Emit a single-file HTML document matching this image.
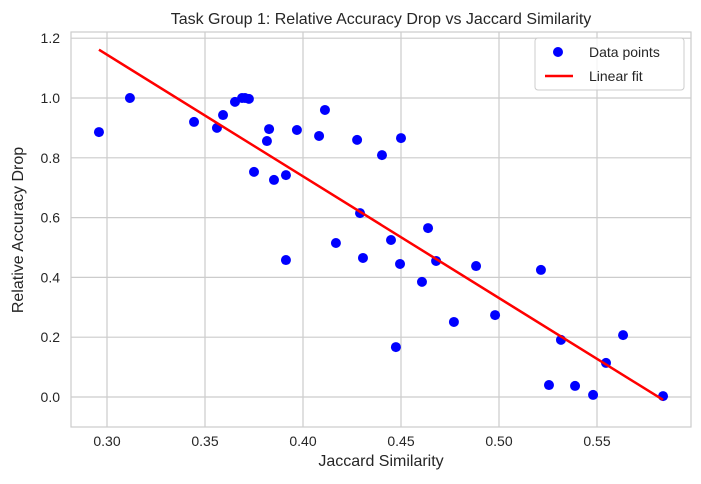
<!DOCTYPE html>
<html><head><meta charset="utf-8"><style>
html,body{margin:0;padding:0;background:#fff;}
svg text{font-family:"Liberation Sans","DejaVu Sans",sans-serif;fill:#262626;}
</style></head><body>
<svg id="chart" width="701" height="479" xmlns="http://www.w3.org/2000/svg">
<text x="381" y="24" font-size="16" text-anchor="middle">Task Group 1: Relative Accuracy Drop vs Jaccard Similarity</text>
<text x="381" y="466" font-size="16" text-anchor="middle">Jaccard Similarity</text>
<text transform="translate(23,230) rotate(-90)" font-size="16" text-anchor="middle">Relative Accuracy Drop</text>
<g id="grid"></g><g id="marks"></g><g id="ticks"></g>
<rect x="71" y="32" width="620" height="395" fill="none" stroke="#ccc" stroke-width="1.2"/>
<g>
<rect x="535" y="38" width="149" height="52" rx="3" fill="#fff" fill-opacity="0.8" stroke="#ccc"/>
<g><circle cx="558" cy="52" r="5" fill="#0000ff"/><text x="589" y="57" font-size="14">Data points</text></g>
<g><line x1="545" y1="76" x2="573" y2="76" stroke="#ff0000" stroke-width="2.5"/><text x="589" y="81" font-size="14">Linear fit</text></g>
</g>
</svg>
<script>
const xValues=[0.2959,0.3117,0.3444,0.3561,0.3592,0.3653,0.3689,0.3704,0.3724,0.375,0.3816,0.3827,0.3852,0.3913,0.3913,0.3969,0.4082,0.4112,0.4168,0.4276,0.4291,0.4306,0.4403,0.4449,0.4474,0.4495,0.45,0.4607,0.4638,0.4679,0.477,0.4883,0.498,0.5214,0.5255,0.5316,0.5388,0.548,0.5546,0.5633,0.5837];
const yValues=[0.886,1.0,0.920,0.900,0.943,0.987,1.0,1.0,0.997,0.753,0.856,0.896,0.726,0.742,0.458,0.893,0.873,0.960,0.515,0.860,0.615,0.465,0.809,0.525,0.167,0.445,0.866,0.385,0.565,0.455,0.251,0.438,0.274,0.425,0.040,0.191,0.037,0.007,0.114,0.207,0.003];
const xTicks=[0.30,0.35,0.40,0.45,0.50,0.55];
const yTicks=[0.0,0.2,0.4,0.6,0.8,1.0,1.2];
const xScale=v=>107+(v-0.30)*1960;
const yScale=v=>397-v*299;
const NS="http://www.w3.org/2000/svg";
function mk(tag,attrs,parent){const e=document.createElementNS(NS,tag);for(const k in attrs)e.setAttribute(k,attrs[k]);parent.appendChild(e);return e;}
const grid=document.getElementById('grid'),ticks=document.getElementById('ticks'),marks=document.getElementById('marks');
xTicks.forEach(t=>{const x=xScale(t);
const g=mk('line',{x1:x,x2:x,y1:32,y2:427,stroke:'#cccccc','stroke-width':1.2},grid);


const tx=mk('text',{x:x,y:446,'font-size':14,'text-anchor':'middle'},ticks);tx.textContent=t.toFixed(2);

});
yTicks.forEach(t=>{const y=yScale(t);
const g=mk('line',{x1:71,x2:691,y1:y,y2:y,stroke:'#cccccc','stroke-width':1.2},grid);


const tx=mk('text',{x:60,y:y+5,'font-size':14,'text-anchor':'end'},ticks);tx.textContent=t.toFixed(1);

});
xValues.forEach((v,i)=>{const c=mk('circle',{cx:xScale(v),cy:yScale(yValues[i]),r:5,fill:'#0000ff'},marks);

});
const n=xValues.length;const mx=xValues.reduce((a,b)=>a+b)/n,my=yValues.reduce((a,b)=>a+b)/n;
let sxy=0,sxx=0;xValues.forEach((v,i)=>{sxy+=(v-mx)*(yValues[i]-my);sxx+=(v-mx)*(v-mx);});
const slope=sxy/sxx,icpt=my-slope*mx;const x0=Math.min(...xValues),x1=Math.max(...xValues);
const ln=mk('line',{x1:xScale(x0),y1:yScale(icpt+slope*x0),x2:xScale(x1),y2:yScale(icpt+slope*x1),stroke:'#ff0000','stroke-width':2.5},marks);


</script>
</body></html>
